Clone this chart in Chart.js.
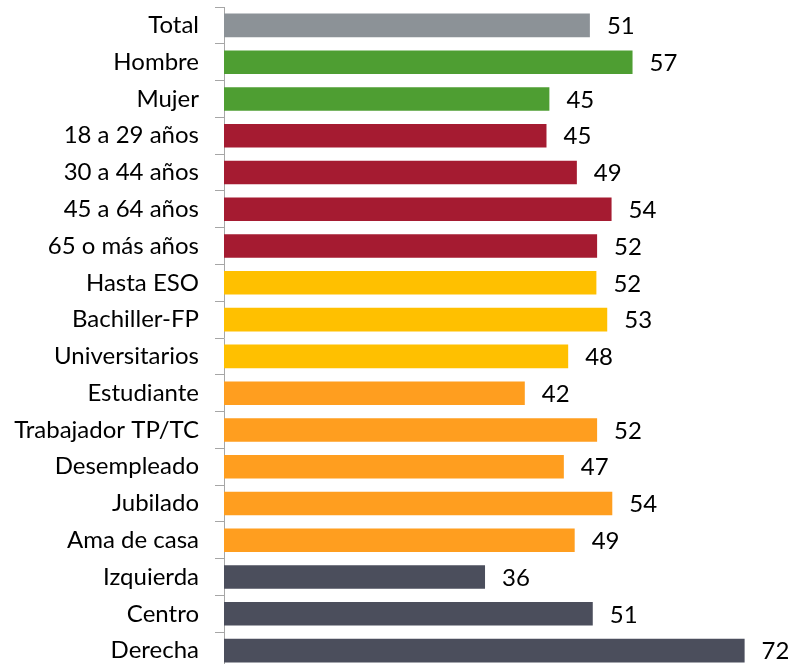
<!DOCTYPE html>
<html>
<head>
<meta charset="utf-8">
<script src="https://cdn.jsdelivr.net/npm/chart.js@4/dist/chart.umd.min.js"></script>
<style>
  html, body { margin: 0; padding: 0; background: #fff; overflow: hidden; }
  #wrap { width: 788px; height: 664px; overflow: hidden; }
</style>
</head>
<body>
<div id="wrap"><canvas id="chart" width="788" height="669"></canvas></div>
<script>
// Chart Data
var categories = ["Total", "Hombre", "Mujer", "18 a 29 años", "30 a 44 años", "45 a 64 años", "65 o más años",
  "Hasta ESO", "Bachiller-FP", "Universitarios", "Estudiante", "Trabajador TP/TC", "Desempleado",
  "Jubilado", "Ama de casa", "Izquierda", "Centro", "Derecha"];
var values = [50.6, 56.5, 45.0, 44.6, 48.8, 53.6, 51.6, 51.5, 53.0, 47.6, 41.6, 51.6, 47.0, 53.7, 48.5, 36.1, 51.0, 72.0];
var groups = ["total", "sexo", "sexo", "edad", "edad", "edad", "edad", "estudios", "estudios", "estudios",
  "situacion", "situacion", "situacion", "situacion", "situacion", "ideologia", "ideologia", "ideologia"];

var groupColors = {
  total: "#8C9297",
  sexo: "#4E9E32",
  edad: "#A51B31",
  estudios: "#FFC000",
  situacion: "#FF9E1F",
  ideologia: "#4B4E5C"
};

var FONT = "Lato, 'Open Sans', sans-serif";

// value labels at bar end
var valueLabels = {
  id: 'valueLabels',
  afterDatasetsDraw: function(chart) {
    var ctx = chart.ctx;
    var meta = chart.getDatasetMeta(0);
    ctx.save();
    ctx.font = "24px " + FONT;
    ctx.fillStyle = "#000";
    ctx.textAlign = "left";
    ctx.textBaseline = "middle";
    meta.data.forEach(function(bar, i) {
      ctx.fillText(Math.round(values[i]), bar.x + 17, bar.y + 1);
    });
    ctx.restore();
  }
};

new Chart(document.getElementById('chart').getContext('2d'), {
  type: 'bar',
  data: {
    labels: categories,
    datasets: [{
      data: values,
      backgroundColor: groups.map(function(g) { return groupColors[g]; }),
      borderWidth: 0,
      categoryPercentage: 1,
      barPercentage: 0.64
    }]
  },
  options: {
    indexAxis: 'y',
    responsive: false,
    animation: false,
    layout: { padding: { top: 7, right: 0, bottom: 0, left: 0 } },
    plugins: { legend: { display: false }, tooltip: { enabled: false } },
    scales: {
      x: {
        display: false,
        min: 0,
        max: 78
      },
      y: {
        afterFit: function(scale) {
          scale.width = 224;
          scale.paddingTop = 0;
          scale.paddingBottom = 0;
        },
        border: { display: true, color: "#A6A6A6", width: 1 },
        grid: { offset: true, drawOnChartArea: false, drawTicks: true, tickLength: 9, color: "#A6A6A6" },
        ticks: { color: "#000", padding: 16, font: { size: 24, family: FONT } }
      }
    }
  },
  plugins: [valueLabels]
});
</script>
</body>
</html>
